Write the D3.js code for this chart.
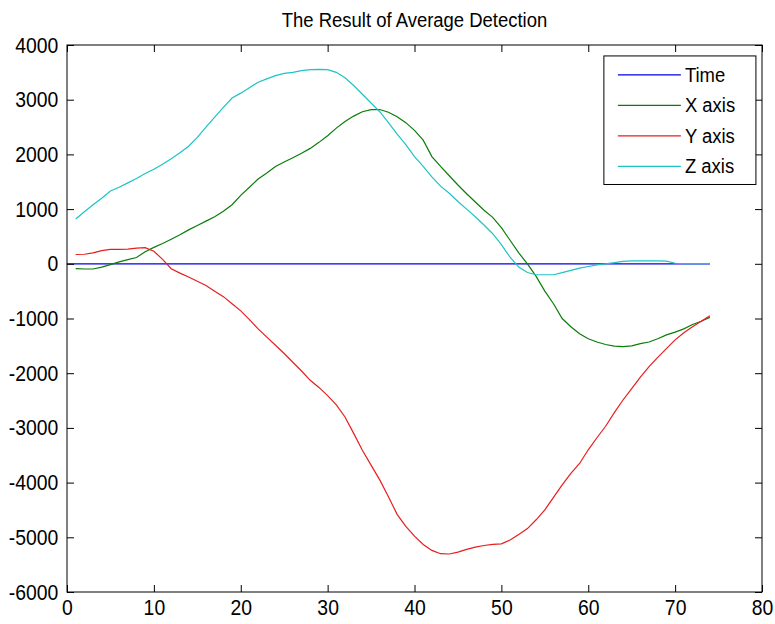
<!DOCTYPE html>
<html>
<head>
<meta charset="utf-8">
<script src="https://cdn.jsdelivr.net/npm/d3@7"></script>
<style>
  body { margin: 0; background: #fff; }
  svg text { font-family: "Liberation Sans", Arial, sans-serif; fill: #000; }
</style>
</head>
<body>
<div id="chart"></div>
<script>
// samples 1..74
const sampleX = d3.range(1, 75);
const timeX = [0, 74];
const timeValues = [0, 0];

const xAxisValues = [-90, -95, -95, -60, -15, 35, 75, 115, 220, 300,
  370, 450, 530, 620, 700, 780, 860, 960, 1080, 1250,
  1400, 1550, 1660, 1780, 1860, 1940, 2020, 2110, 2220, 2340,
  2480, 2600, 2700, 2780, 2820, 2820, 2770, 2690, 2580, 2440,
  2260, 1960, 1780, 1610, 1440, 1280, 1130, 980, 850, 660,
  430, 200, 0, -230, -500, -730, -1000, -1150, -1280, -1370,
  -1430, -1475, -1505, -1515, -1500, -1460, -1430, -1370, -1300, -1250,
  -1190, -1110, -1050, -980];

const yAxisValues = [170, 175, 200, 240, 265, 265, 270, 285, 295, 230,
  80, -90, -170, -240, -320, -395, -500, -600, -730, -860,
  -1020, -1190, -1340, -1490, -1640, -1800, -1960, -2130, -2260, -2410,
  -2580, -2800, -3100, -3410, -3680, -3950, -4260, -4580, -4800, -4980,
  -5130, -5240, -5300, -5305, -5270, -5220, -5180, -5150, -5130, -5120,
  -5050, -4950, -4840, -4680, -4500, -4270, -4040, -3830, -3650, -3400,
  -3180, -2970, -2720, -2490, -2280, -2070, -1880, -1710, -1550, -1390,
  -1260, -1150, -1050, -950];

const zAxisValues = [820, 950, 1080, 1200, 1330, 1400, 1480, 1560, 1650, 1730,
  1820, 1920, 2030, 2150, 2310, 2500, 2680, 2860, 3030, 3120,
  3220, 3320, 3380, 3440, 3480, 3500, 3530, 3550, 3555, 3550,
  3500, 3400, 3260, 3100, 2940, 2780, 2580, 2370, 2180, 1960,
  1780, 1590, 1420, 1290, 1140, 1000, 860, 710, 550, 350,
  120, -60, -160, -200, -200, -200, -160, -120, -80, -50,
  -20, 0, 20, 45, 55, 55, 55, 55, 50, 10,
  5, 5, 5, 5];

const seriesNames = ['Time', 'X axis', 'Y axis', 'Z axis'];
const seriesColors = ['#0000e6', '#0a7d0a', '#e61e1e', '#1ec3c3'];
const xTicks = [0, 10, 20, 30, 40, 50, 60, 70, 80];
const yTicks = [-6000, -5000, -4000, -3000, -2000, -1000, 0, 1000, 2000, 3000, 4000];

const width = 775, height = 624;
const margin = { top: 45, right: 13, bottom: 32, left: 67 };
const iw = width - margin.left - margin.right;
const ih = height - margin.top - margin.bottom;
const squeeze = 'scale(0.88,1)'; // narrow MATLAB-looking labels

const svg = d3.select('#chart').append('svg')
  .attr('width', width)
  .attr('height', height);

const x = d3.scaleLinear().domain([0, 80]).range([0, iw]);
const y = d3.scaleLinear().domain([-6000, 4000]).range([ih, 0]);

const g = svg.append('g').attr('transform', `translate(${margin.left},${margin.top})`);

// title
svg.append('text')
  .attr('transform', `translate(${margin.left + iw / 2},27) ${squeeze}`)
  .attr('text-anchor', 'middle')
  .attr('font-size', 21)
  .text('The Result of Average Detection');

// series
const series = [
  timeX.map((d, i) => [d, timeValues[i]]),
  sampleX.map((d, i) => [d, xAxisValues[i]]),
  sampleX.map((d, i) => [d, yAxisValues[i]]),
  sampleX.map((d, i) => [d, zAxisValues[i]])
];

const line = d3.line().x(d => x(d[0])).y(d => y(d[1]));

g.selectAll('path.series')
  .data(series)
  .enter().append('path')
  .attr('class', 'series')
  .attr('d', line)
  .attr('fill', 'none')
  .attr('stroke', (d, i) => seriesColors[i])
  .attr('stroke-width', 1.2);

// axes, MATLAB style: ticks inside on all four sides
const tickLen = 7;
const fmt = d => d3.format('d')(d).replace('−', '-');

const axBottom = g.append('g').attr('transform', `translate(0,${ih})`)
  .call(d3.axisBottom(x).tickValues(xTicks).tickSizeInner(-tickLen).tickSizeOuter(0).tickPadding(7).tickFormat(fmt));
const axTop = g.append('g')
  .call(d3.axisTop(x).tickValues(xTicks).tickSizeInner(-tickLen).tickSizeOuter(0).tickFormat(''));
const axLeft = g.append('g')
  .call(d3.axisLeft(y).tickValues(yTicks).tickSizeInner(-tickLen).tickSizeOuter(0).tickPadding(10).tickFormat(fmt));
const axRight = g.append('g').attr('transform', `translate(${iw},0)`)
  .call(d3.axisRight(y).tickValues(yTicks).tickSizeInner(-tickLen).tickSizeOuter(0).tickFormat(''));

[axBottom, axTop, axLeft, axRight].forEach(a => {
  a.selectAll('.domain').remove();
  a.selectAll('line').attr('stroke', '#000');
  a.selectAll('text').attr('font-size', 22).attr('fill', '#000')
    .attr('font-family', '"Liberation Sans", Arial, sans-serif')
    .attr('transform', squeeze);
});

g.append('rect')
  .attr('width', iw).attr('height', ih)
  .attr('fill', 'none').attr('stroke', '#000').attr('stroke-width', 1);

// legend
const lg = g.append('g').attr('transform', `translate(${x(61.8)},${y(3800)})`);
const lw = x(79.3) - x(61.8), lh = y(1450) - y(3800);
lg.append('rect')
  .attr('width', lw).attr('height', lh)
  .attr('fill', '#fff').attr('stroke', '#000');

seriesNames.forEach((name, i) => {
  const yy = 19 + i * 30.5;
  lg.append('line')
    .attr('x1', 14).attr('x2', 77)
    .attr('y1', yy).attr('y2', yy)
    .attr('stroke', seriesColors[i]).attr('stroke-width', 1.2);
  lg.append('text')
    .attr('transform', `translate(81,${yy + 7}) ${squeeze}`)
    .attr('font-size', 21)
    .text(name);
});
</script>
</body>
</html>
